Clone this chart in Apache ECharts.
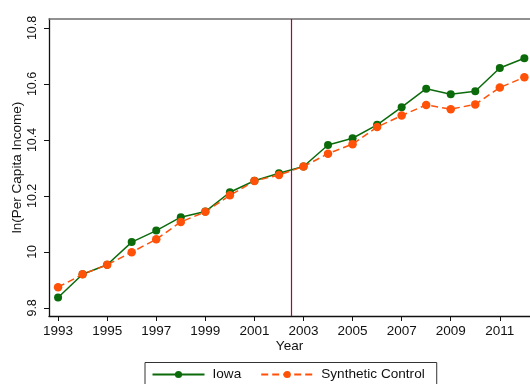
<!DOCTYPE html>
<html>
<head>
<meta charset="utf-8">
<script src="https://cdn.jsdelivr.net/npm/echarts@6/dist/echarts.min.js"></script>
<style>
  html, body { margin: 0; padding: 0; background: #fff; }
  #chart { width: 530px; height: 384px; }
</style>
</head>
<body>
<div id="chart"></div>
<script>
// Log per-capita income, Iowa vs. its synthetic control
const years = [1993, 1994, 1995, 1996, 1997, 1998, 1999, 2000, 2001, 2002,
               2003, 2004, 2005, 2006, 2007, 2008, 2009, 2010, 2011, 2012];
const iowa = [9.837, 9.920, 9.954, 10.035, 10.076, 10.124, 10.144, 10.213, 10.254, 10.281,
              10.305, 10.382, 10.406, 10.454, 10.517, 10.583, 10.563, 10.574, 10.657, 10.692];
const synthetic = [9.874, 9.920, 9.954, 9.999, 10.045, 10.107, 10.143, 10.202, 10.253, 10.275,
                   10.305, 10.351, 10.385, 10.446, 10.487, 10.525, 10.510, 10.527, 10.587, 10.624];
const xTicks = [1993, 1995, 1997, 1999, 2001, 2003, 2005, 2007, 2009, 2011];
const yTicks = [9.8, 10.0, 10.2, 10.4, 10.6, 10.8];
const treatmentYear = 2002.5;

const FONT = '"Liberation Sans", Arial, Helvetica, sans-serif';
const GREEN = '#0b6b0b';
const ORANGE = '#ff5108';

const pairs = (ys) => years.map((y, i) => [y, ys[i]]);
const fmtY = (v) => String(parseFloat(v.toFixed(1)));

const chart = echarts.init(document.getElementById('chart'), null, { renderer: 'canvas' });
chart.setOption({
  animation: false,
  backgroundColor: '#ffffff',
  textStyle: { fontFamily: FONT },
  grid: { left: 49, right: 0, top: 19, bottom: 68 },
  xAxis: [{
    type: 'value',
    min: 1992.63,
    max: 2012.23,
    name: 'Year',
    nameLocation: 'middle',
    nameGap: 23,
    nameMoveOverlap: false,
    nameTextStyle: { fontFamily: FONT, fontSize: 13.5, color: '#111' },
    axisLine: { show: true, onZero: false, lineStyle: { color: '#111', width: 1.3 } },
    axisTick: { show: true, length: 5, customValues: xTicks, lineStyle: { color: '#111' } },
    axisLabel: { customValues: xTicks, margin: 8, fontFamily: FONT, fontSize: 13.5, color: '#111',
                 formatter: (v) => String(v) },
    splitLine: { show: false }
  }, {
    type: 'value',
    position: 'top',
    min: 1992.63,
    max: 2012.23,
    axisLine: { show: true, onZero: false, lineStyle: { color: '#6e6e6e', width: 1.5 } },
    axisTick: { show: false },
    axisLabel: { show: false },
    splitLine: { show: false }
  }],
  yAxis: {
    type: 'value',
    min: 9.771,
    max: 10.832,
    name: 'ln(Per Capita Income)',
    nameLocation: 'middle',
    nameGap: 25,
    nameMoveOverlap: false,
    nameTextStyle: { fontFamily: FONT, fontSize: 13.5, color: '#111' },
    axisLine: { show: true, onZero: false, lineStyle: { color: '#111', width: 1.3 } },
    axisTick: { show: true, length: 5, customValues: yTicks, lineStyle: { color: '#111' } },
    axisLabel: { customValues: yTicks, rotate: 90, margin: 10, fontFamily: FONT, fontSize: 12.5,
                 color: '#111', formatter: fmtY },
    splitLine: { show: false }
  },
  legend: {
    left: 145,
    top: 362.5,
    orient: 'horizontal',
    itemWidth: 52,
    itemHeight: 9,
    itemGap: 19,
    padding: [5, 12, 6, 6.5],
    borderColor: '#333',
    borderWidth: 1,
    textStyle: { fontFamily: FONT, fontSize: 13.6, color: '#111', padding: [0, 0, 0, 3] },
    data: ['Iowa', 'Synthetic Control']
  },
  series: [{
    name: 'Iowa',
    type: 'line',
    data: pairs(iowa),
    symbol: 'circle',
    symbolSize: 8,
    lineStyle: { color: GREEN, width: 1.5 },
    itemStyle: { color: GREEN },
    markLine: {
      silent: true,
      symbol: 'none',
      label: { show: false },
      lineStyle: { color: '#a3073f', width: 1.2, type: 'solid' },
      data: [{ xAxis: treatmentYear }]
    }
  }, {
    name: 'Synthetic Control',
    type: 'line',
    data: pairs(synthetic),
    symbol: 'circle',
    symbolSize: 8.5,
    lineStyle: { color: ORANGE, width: 1.5, type: [7, 4] },
    itemStyle: { color: ORANGE }
  }]
});
</script>
</body>
</html>
